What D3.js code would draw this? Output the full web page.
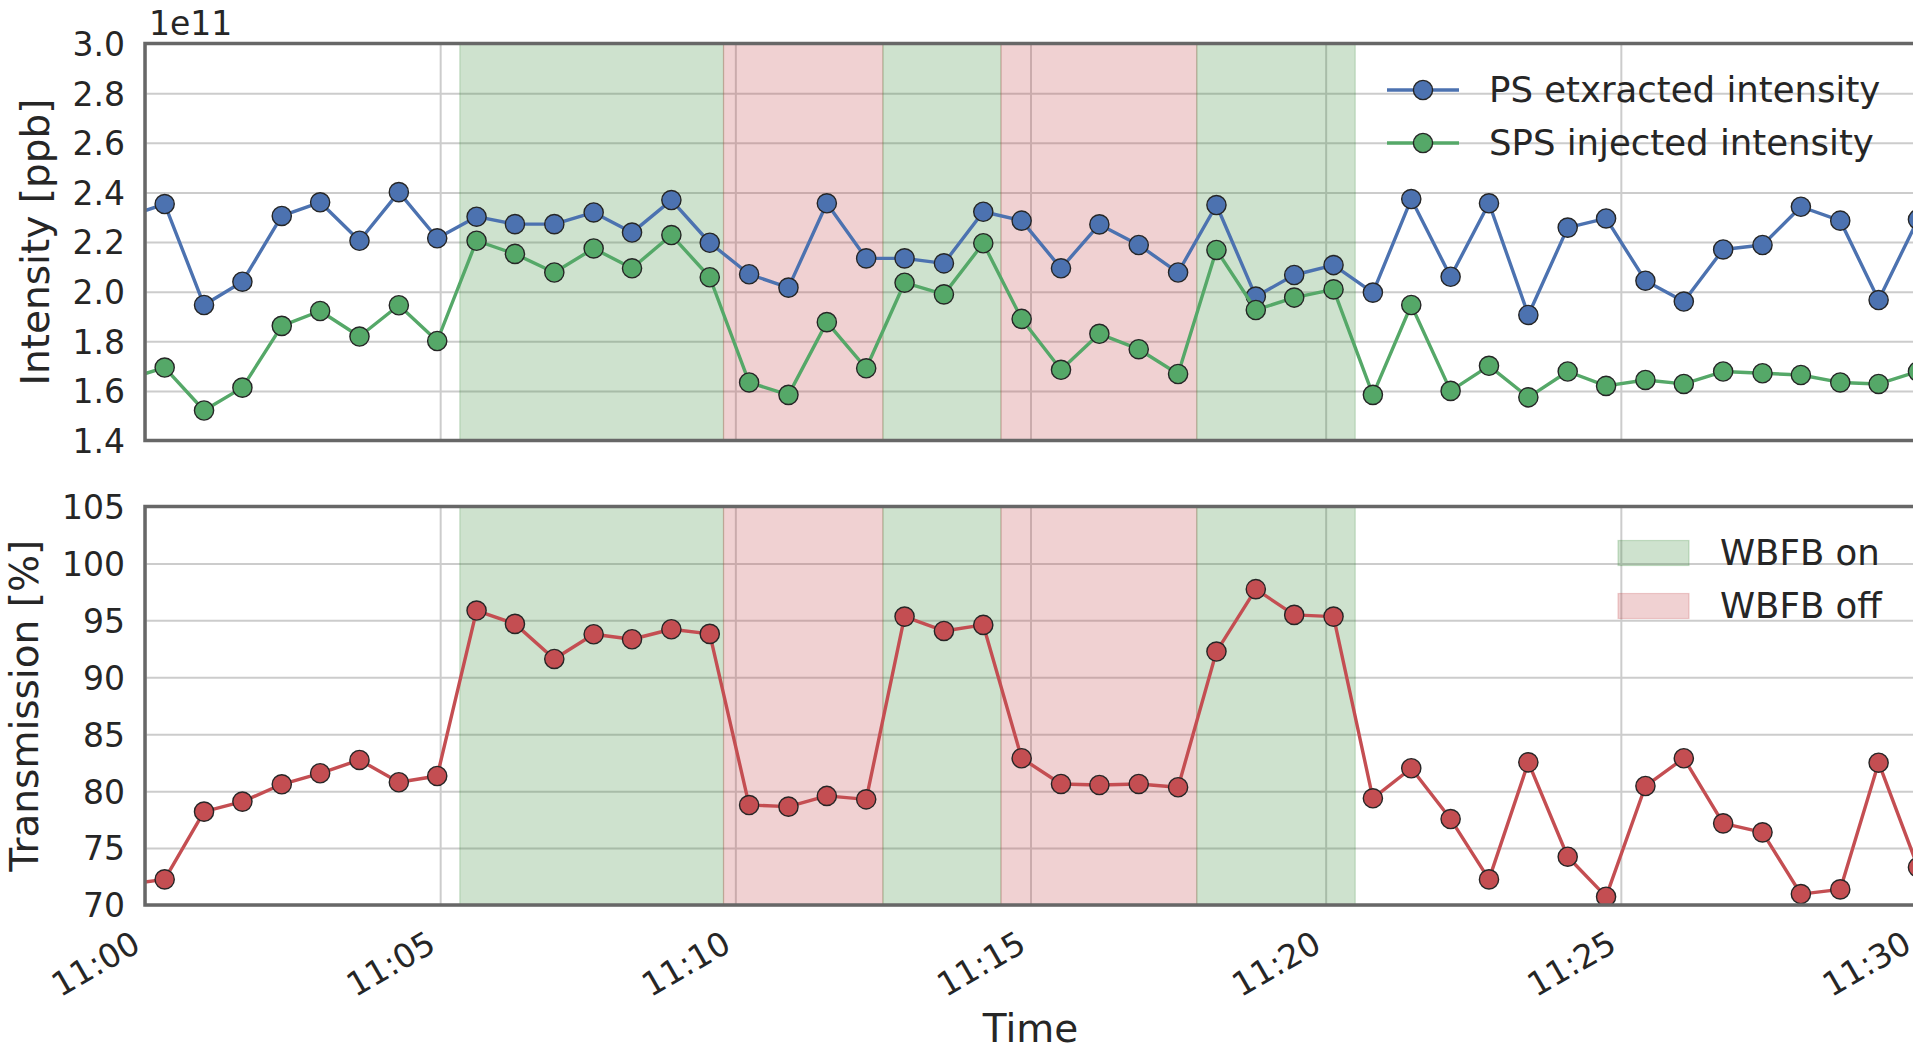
<!DOCTYPE html>
<html><head><meta charset="utf-8">
<script src="https://cdn.jsdelivr.net/npm/d3@7"></script>
<style>
html,body{margin:0;padding:0;background:#fff}
svg text{font-family:"DejaVu Sans",sans-serif;fill:#262626}
</style>
</head><body>
<svg id="chart" width="1913" height="1051"></svg>
<script>
// ---------- data ----------
const times = ["10:59:40","11:00:20","11:01:00","11:01:39","11:02:19","11:02:58","11:03:38","11:04:18","11:04:57",
  "11:05:37","11:06:16","11:06:56","11:07:36","11:08:15","11:08:55","11:09:34","11:10:14","11:10:54","11:11:33",
  "11:12:13","11:12:52","11:13:32","11:14:12","11:14:51","11:15:31","11:16:10","11:16:50","11:17:30","11:18:09",
  "11:18:49","11:19:28","11:20:08","11:20:48","11:21:27","11:22:07","11:22:46","11:23:26","11:24:06","11:24:45",
  "11:25:25","11:26:04","11:26:44","11:27:24","11:28:03","11:28:43","11:29:22","11:30:02"];
const psExtracted = [2.30, 2.353, 1.946, 2.040, 2.305, 2.360, 2.205, 2.401, 2.215, 2.302, 2.272, 2.272, 2.319, 2.238, 2.369,
  2.197, 2.070, 2.016, 2.356, 2.134, 2.134, 2.114, 2.322, 2.286, 2.094, 2.271, 2.188, 2.077, 2.349, 1.980, 2.067, 2.107,
  1.996, 2.373, 2.060, 2.356, 1.906, 2.258, 2.295, 2.044, 1.960, 2.170, 2.188, 2.342, 2.286, 1.966, 2.291];
const spsInjected = [1.645, 1.694, 1.521, 1.613, 1.862, 1.922, 1.819, 1.945, 1.801, 2.205, 2.152, 2.077, 2.174, 2.094, 2.228,
  2.058, 1.634, 1.584, 1.877, 1.691, 2.036, 1.989, 2.195, 1.890, 1.685, 1.830, 1.768, 1.668, 2.168, 1.926, 1.976, 2.009,
  1.584, 1.946, 1.600, 1.701, 1.574, 1.678, 1.620, 1.644, 1.628, 1.678, 1.671, 1.664, 1.634, 1.628, 1.678];
const transmission = [71.8, 72.25, 78.2, 79.08, 80.6, 81.57, 82.74, 80.78, 81.33, 95.86, 94.69, 91.61, 93.78, 93.34, 94.22,
  93.81, 78.78, 78.64, 79.58, 79.28, 95.33, 94.07, 94.6, 82.89, 80.63, 80.54, 80.63, 80.34, 92.26, 97.74, 95.48, 95.33,
  79.37, 82.01, 77.55, 72.25, 82.53, 74.24, 70.73, 80.45, 82.89, 77.17, 76.38, 70.96, 71.37, 82.50, 73.31];

const seriesNames = ["PS etxracted intensity", "SPS injected intensity"];
const transmissionName = "Transmission";
const intensityTicks = [1.4, 1.6, 1.8, 2.0, 2.2, 2.4, 2.6, 2.8, 3.0];
const transmissionTicks = [70, 75, 80, 85, 90, 95, 100, 105];
const timeTickLabels = ["11:00", "11:05", "11:10", "11:15", "11:20", "11:25", "11:30"];
const timeDomain = ["11:00:00", "11:30:00"];
const spanStarts = ["11:05:20", "11:09:48", "11:12:30", "11:14:30", "11:17:49"];
const spanEnds   = ["11:09:48", "11:12:30", "11:14:30", "11:17:49", "11:20:30"];
const spanStates = ["WBFB on", "WBFB off", "WBFB on", "WBFB off", "WBFB on"];
const spanLabels = ["WBFB on", "WBFB off"];

// ---------- style ----------
const colBlue = "#4C72B0", colGreen = "#55A868", colRed = "#C44E52";
const spanFill = {"WBFB on": "rgb(60,140,60)", "WBFB off": "rgb(196,78,82)"};
const spanOpacity = {"WBFB on": 0.25, "WBFB off": 0.26};
const lineW = 3.4, markR = 9.6;

const parseT = d3.timeParse("%H:%M:%S");
const parseHM = d3.timeParse("%H:%M");
const svg = d3.select("#chart");

const L = 145, R = 1916;
const x = d3.scaleTime().domain(timeDomain.map(parseT)).range([L, R]);
const tickDates = timeTickLabels.map(parseHM);

const panels = [
  {top: 43.5, bottom: 440.5, domain: [1.4, 3.0], ticks: intensityTicks, fmt: d3.format(".1f"),
   label: "Intensity [ppb]", labelX: 49,
   series: [{name: seriesNames[0], vals: psExtracted, color: colBlue},
            {name: seriesNames[1], vals: spsInjected, color: colGreen}]},
  {top: 506.5, bottom: 905, domain: [70, 105], ticks: transmissionTicks, fmt: d3.format("d"),
   label: "Transmission [%]", labelX: 38,
   series: [{name: transmissionName, vals: transmission, color: colRed}]}
];

const defs = svg.append("defs");

panels.forEach((p, pi) => {
  const y = d3.scaleLinear().domain(p.domain).range([p.bottom, p.top]);
  const g = svg.append("g");
  const clipId = "clip" + pi;
  defs.append("clipPath").attr("id", clipId).append("rect")
    .attr("x", L).attr("y", p.top).attr("width", R - L).attr("height", p.bottom - p.top);

  // grid
  const gy = g.append("g").attr("transform", `translate(${L},0)`)
    .call(d3.axisLeft(y).tickValues(p.ticks).tickSize(-(R - L)).tickFormat(""));
  gy.select(".domain").remove();
  gy.selectAll("line").attr("stroke", "#cccccc").attr("stroke-width", 2);
  const gx = g.append("g").attr("transform", `translate(0,${p.bottom})`)
    .call(d3.axisBottom(x).tickValues(tickDates).tickSize(-(p.bottom - p.top)).tickFormat(""));
  gx.select(".domain").remove();
  gx.selectAll("line").attr("stroke", "#cccccc").attr("stroke-width", 2);

  // shaded spans
  g.append("g").attr("clip-path", `url(#${clipId})`).selectAll("rect")
    .data(spanStates.map((s, i) => ({s, a: parseT(spanStarts[i]), b: parseT(spanEnds[i])})))
    .join("rect")
    .attr("x", d => x(d.a)).attr("width", d => x(d.b) - x(d.a))
    .attr("y", p.top).attr("height", p.bottom - p.top)
    .attr("fill", d => spanFill[d.s]).attr("fill-opacity", d => spanOpacity[d.s])
    .attr("stroke", d => spanFill[d.s]).attr("stroke-opacity", d => spanOpacity[d.s]).attr("stroke-width", 1.2);

  // series
  const dg = g.append("g").attr("clip-path", `url(#${clipId})`);
  p.series.forEach(s => {
    const pts = s.vals.map((v, i) => ({t: parseT(times[i]), v}));
    dg.append("path").datum(pts)
      .attr("fill", "none").attr("stroke", s.color).attr("stroke-width", lineW).attr("stroke-linejoin", "round")
      .attr("d", d3.line().x(d => x(d.t)).y(d => y(d.v)));
    dg.append("g").selectAll("circle").data(pts).join("circle")
      .attr("cx", d => x(d.t)).attr("cy", d => y(d.v)).attr("r", markR)
      .attr("fill", s.color).attr("stroke", "#262626").attr("stroke-width", 1.4);
  });

  // y tick labels
  const ay = g.append("g").attr("transform", `translate(${L},0)`)
    .call(d3.axisLeft(y).tickValues(p.ticks).tickFormat(p.fmt).tickSize(0).tickPadding(20));
  ay.select(".domain").remove();
  ay.selectAll("text").attr("font-size", 33).attr("dy", "0.36em")
    .style("font-family", "DejaVu Sans").attr("fill", "#262626");

  // y label
  g.append("text").attr("transform", `translate(${p.labelX},${(p.top + p.bottom) / 2}) rotate(-90)`)
    .attr("text-anchor", "middle").attr("font-size", 39).text(p.label);

  // spines
  g.append("rect").attr("x", L).attr("y", p.top).attr("width", R - L).attr("height", p.bottom - p.top)
    .attr("fill", "none").attr("stroke", "#676767").attr("stroke-width", 3.5);

  if (pi === 1) {
    const ax = g.append("g").attr("transform", `translate(0,${p.bottom})`)
      .call(d3.axisBottom(x).tickValues(tickDates).tickFormat(d3.timeFormat("%H:%M")).tickSize(0));
    ax.select(".domain").remove();
    ax.selectAll("text").attr("y", 0).attr("dy", 0).attr("font-size", 33)
      .style("font-family", "DejaVu Sans").attr("fill", "#262626")
      .attr("text-anchor", "end").attr("transform", "translate(-3,45) rotate(-30)");
  }
});

// offset text for intensity axis
svg.append("text").attr("x", 149).attr("y", 35).attr("font-size", 33).text("1e11");

// x label
svg.append("text").attr("x", (L + R) / 2).attr("y", 1042).attr("text-anchor", "middle").attr("font-size", 39).text("Time");

// legend: series
const leg1 = svg.append("g");
[{name: seriesNames[0], color: colBlue, y: 90}, {name: seriesNames[1], color: colGreen, y: 143}].forEach(d => {
  leg1.append("line").attr("x1", 1387).attr("x2", 1459).attr("y1", d.y).attr("y2", d.y)
    .attr("stroke", d.color).attr("stroke-width", lineW);
  leg1.append("circle").attr("cx", 1423).attr("cy", d.y).attr("r", markR)
    .attr("fill", d.color).attr("stroke", "#262626").attr("stroke-width", 1.4);
  leg1.append("text").attr("x", 1489).attr("y", d.y).attr("dy", "0.35em").attr("font-size", 35.5).text(d.name);
});

// legend: spans
const leg2 = svg.append("g");
spanLabels.forEach((s, i) => {
  const cy = [553, 606][i];
  leg2.append("rect").attr("x", 1618).attr("y", cy - 12.5).attr("width", 71).attr("height", 25)
    .attr("fill", spanFill[s]).attr("fill-opacity", spanOpacity[s])
    .attr("stroke", spanFill[s]).attr("stroke-opacity", spanOpacity[s]).attr("stroke-width", 1.2);
  leg2.append("text").attr("x", 1720).attr("y", cy).attr("dy", "0.35em").attr("font-size", 35.5).text(s);
});
</script>
</body></html>
